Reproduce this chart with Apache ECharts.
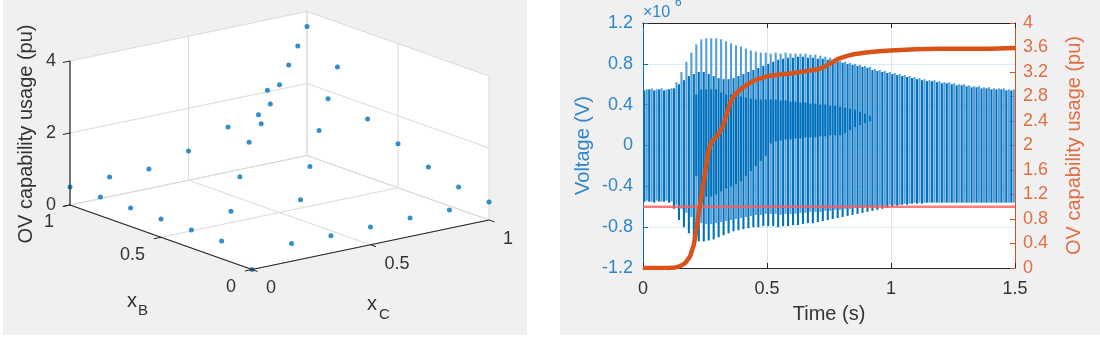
<!DOCTYPE html>
<html><head><meta charset="utf-8">
<script src="https://cdn.jsdelivr.net/npm/echarts@6/dist/echarts.min.js"></script>
<style>html,body{margin:0;padding:0;background:#fff}#c{width:1100px;height:340px}</style>
</head><body><div id="c"></div>
<script>
// ---------- Left panel: 3-D scatter (xB, xC, OV capability usage) ----------
const ptXB = [0,0,0,0,0,0,0, 0.167,0.333,0.5,0.667,0.833,1, 1,1,1,1,1,1, 0.167,0.333,0.5,0.667,0.833,
              0.167,0.333,0.5,0.667,0.833, 0.167,0.333,0.5,0.667, 0.333,0.5,0.667,0.833];
const ptXC = [0,0.167,0.333,0.5,0.667,0.833,1, 0,0,0,0,0,0, 0.167,0.333,0.5,0.667,0.833,1, 1,1,1,1,1,
              0.167,0.333,0.5,0.667,0.833, 0.333,0.5,0.667,0.833, 0.167,0.333,0.5,0.667];
const ptZ  = [0,0.49,0.48,0.49,0.51,0.51,0.5, 0.49,0.5,0.51,0.51,0.52,0.5, 0.55,0.54,0.81,1.25,2.04,3.58, 0.62,0.875,1.22,1.61,2.76,
              3.52,3.54,3.55,3.57,3.57, 1.18,1.58,2.05,2.40, 0.79,1.22,1.65,1.89];
const zTicks = [0, 2, 4];
const xbTicks = [0, 0.5, 1];
const xcTicks = [0, 0.5, 1];

// ---------- Right panel: voltage strokes (one per cycle) and OV usage ----------
const cycleStep = 0.02;
const darkHi = [0.54,0.55,0.54,0.55,0.54, 0.55,0.56,0.6,0.64,0.68, 0.7,0.72,0.72,0.7,0.68, 0.66,0.65,0.65,0.66,0.68,
  0.7,0.72,0.74,0.76,0.78, 0.8,0.82,0.84,0.85,0.86, 0.86,0.87,0.87,0.86,0.86, 0.85,0.85,0.84,0.83,0.82,
  0.81,0.8,0.79,0.78,0.77, 0.76,0.74,0.73,0.72,0.71, 0.7,0.69,0.68,0.67,0.66, 0.65,0.64,0.63,0.63,0.62,
  0.61,0.61,0.6,0.59,0.59, 0.58,0.57,0.57,0.56,0.56, 0.55,0.55,0.55,0.54,0.54];
const darkLo = [-0.55,-0.55,-0.56,-0.55,-0.55, -0.56,-0.62,-0.73,-0.8,-0.86, -0.92,-0.94,-0.94,-0.93,-0.92, -0.9,-0.88,-0.86,-0.84,-0.83,
  -0.82,-0.81,-0.8,-0.8,-0.79, -0.79,-0.79,-0.8,-0.79,-0.79, -0.78,-0.78,-0.77,-0.76,-0.76, -0.75,-0.74,-0.73,-0.72,-0.71,
  -0.7,-0.69,-0.68,-0.67,-0.66, -0.65,-0.64,-0.63,-0.62,-0.61, -0.6,-0.59,-0.58,-0.58,-0.57, -0.57,-0.57,-0.56,-0.56,-0.56,
  -0.56,-0.56,-0.56,-0.56,-0.56, -0.56,-0.56,-0.56,-0.56,-0.56, -0.56,-0.56,-0.56,-0.56,-0.56];
const lightHi = [0.55,0.56,0.55,0.56,0.55, 0.56,0.62,0.72,0.82,0.91, 0.99,1.04,1.05,1.05,1.05, 1.04,1.02,1.0,0.98,0.97,
  0.95,0.93,0.92,0.91,0.91, 0.9,0.91,0.9,0.91,0.9, 0.9,0.9,0.9,0.89,0.89, 0.88,0.87,0.86,0.85,0.83,
  0.82,0.81,0.8,0.79,0.78, 0.77,0.75,0.74,0.73,0.72, 0.71,0.7,0.69,0.68,0.67, 0.66,0.65,0.64,0.64,0.63,
  0.62,0.62,0.61,0.6,0.6, 0.59,0.58,0.58,0.57,0.57, 0.56,0.56,0.56,0.55,0.55];
const lightLo = [-0.54,-0.55,-0.54,-0.55,-0.54, -0.55,-0.58,-0.62,-0.66,-0.7, -0.74,-0.76,-0.77,-0.77,-0.76, -0.75,-0.74,-0.73,-0.72,-0.71,
  -0.7,-0.69,-0.68,-0.68,-0.67, -0.67,-0.67,-0.68,-0.67,-0.67, -0.67,-0.66,-0.66,-0.65,-0.65, -0.65,-0.64,-0.64,-0.63,-0.63,
  -0.62,-0.62,-0.61,-0.61,-0.6, -0.6,-0.6,-0.59,-0.59,-0.58, -0.58,-0.58,-0.57,-0.57,-0.56, -0.56,-0.56,-0.56,-0.56,-0.56,
  -0.56,-0.56,-0.56,-0.56,-0.56, -0.56,-0.56,-0.56,-0.56,-0.56, -0.56,-0.56,-0.56,-0.56,-0.56];
// darker inner band (cycles 10..45)
const bandFirstCycle = 10;
const bandHi = [0.5,0.55,0.55,0.55,0.55, 0.52,0.5,0.5,0.48,0.48, 0.47,0.46,0.45,0.45,0.45,
  0.45,0.45,0.44,0.44,0.43, 0.43,0.42,0.42,0.41,0.41, 0.4,0.4,0.39,0.39,0.38, 0.37,0.36,0.35,0.33,0.31, 0.29];
const bandLo = [-0.3,-0.45,-0.5,-0.5,-0.48, -0.45,-0.42,-0.4,-0.38,-0.35, -0.3,-0.25,-0.2,-0.15,-0.1,
  0.02,0.04,0.05,0.06,0.06, 0.07,0.07,0.08,0.08,0.08, 0.09,0.09,0.1,0.1,0.1, 0.12,0.15,0.18,0.2,0.22, 0.24];
const usageT  = [0,0.05,0.1,0.13,0.15,0.17,0.19,0.205,0.215,0.225,0.235,0.245,0.255,0.265,0.275,0.29,0.305,0.32,0.335,0.35,
  0.365,0.38,0.4,0.43,0.46,0.5,0.55,0.6,0.65,0.7,0.73,0.76,0.79,0.82,0.85,0.9,0.95,1.0,1.1,1.2,1.3,1.4,1.5];
const usagePU = [0,0,0,0.01,0.03,0.08,0.19,0.38,0.62,0.9,1.15,1.42,1.68,1.93,2.05,2.12,2.19,2.3,2.48,2.68,
  2.8,2.87,2.94,3.02,3.08,3.13,3.16,3.18,3.21,3.24,3.28,3.35,3.42,3.46,3.49,3.52,3.54,3.55,3.57,3.58,3.58,3.58,3.59];
const limitT  = [0, 1.5];
const limitPU = [1, 1];

// ---------- styling ----------
const FONT = '"Liberation Sans", Arial, sans-serif';
const TXT = '#333333';
const BLUE = '#0072BD', BLUE_TXT = '#2f86c9';
const ORANGE = '#D95319', ORANGE_TXT = '#de6f45';
const VIEW = { bx: -182, by: 64.5, cx: 237, cy: 49.5, zz: 36 };
const Z_MAX = zTicks[zTicks.length - 1];
function proj(b, c, z) { return [VIEW.bx * b + VIEW.cx * c, VIEW.by * b + VIEW.cy * c + VIEW.zz * z]; }

function helpers(api) {
  const P = (b, c, z) => api.coord(proj(b, c, z));
  const seg = (a, b, color, w) => { const p = P(a[0], a[1], a[2]), q = P(b[0], b[1], b[2]);
    return { type: 'line', shape: { x1: p[0], y1: p[1], x2: q[0], y2: q[1] }, style: { stroke: color, lineWidth: w } }; };
  const txt = (p, dx, dy, s, align, size, extra) => Object.assign({ type: 'text', x: p[0] + dx, y: p[1] + dy,
    style: { text: s, fill: TXT, font: (size || 18) + 'px ' + FONT, align: align, textAlign: align,
             verticalAlign: 'middle', textVerticalAlign: 'middle' } }, extra || {});
  return { P, seg, txt };
}

function renderBox(params, api) {
  const { P, seg } = helpers(api);
  const ch = [];
  const hex = [[0,0,0],[1,0,0],[1,0,Z_MAX],[1,1,Z_MAX],[0,1,Z_MAX],[0,1,0]].map(p => P(p[0], p[1], p[2]));
  ch.push({ type: 'polygon', shape: { points: hex }, style: { fill: '#ffffff', lineWidth: 0 } });
  const g = '#dadada';
  xbTicks.forEach(b => { ch.push(seg([b,0,0],[b,1,0],g,1)); ch.push(seg([b,1,0],[b,1,Z_MAX],g,1)); });
  xcTicks.forEach(c => { ch.push(seg([0,c,0],[1,c,0],g,1)); ch.push(seg([1,c,0],[1,c,Z_MAX],g,1)); });
  zTicks.forEach(z => { ch.push(seg([1,0,z],[1,1,z],g,1)); ch.push(seg([0,1,z],[1,1,z],g,1)); });
  return { type: 'group', children: ch };
}

function renderAxes3d(params, api) {
  const { P, seg, txt } = helpers(api);
  const k = '#262626', ch = [], TL = 0.03;
  ch.push(seg([1,0,0],[1,0,Z_MAX],k,1.2));
  ch.push(seg([0,0,0],[1,0,0],k,1.2));
  ch.push(seg([0,0,0],[0,1,0],k,1.2));
  zTicks.forEach(z => { ch.push(seg([1,0,z],[1,-TL,z],k,1)); ch.push(txt(P(1,0,z), -14, 0, String(z), 'right')); });
  xbTicks.forEach(b => { ch.push(seg([b,0,0],[b,-TL,0],k,1)); ch.push(txt(P(b,0,0), -16, 17.5, String(b), 'right')); });
  xcTicks.forEach(c => { ch.push(seg([0,c,0],[-TL,c,0],k,1)); ch.push(txt(P(0,c,0), 14, 19, String(c), 'left')); });
  const aB = P(0.5, 0, 0), aC = P(0, 0.5, 0), aZ = P(1, 0, Z_MAX / 2);
  ch.push(txt(aB, -29, 64, 'x', 'center', 20));
  ch.push(txt(aB, -18, 74, 'B', 'center', 15));
  ch.push(txt(aC, 1.5, 60, 'x', 'center', 20));
  ch.push(txt(aC, 14, 70, 'C', 'center', 15));
  ch.push(txt(aZ, -44, 1, 'OV capability usage (pu)', 'center', 20, { rotation: Math.PI / 2 }));
  return { type: 'group', children: ch };
}

function strokeRenderer(color, width) {
  return function (params, api) {
    const p1 = api.coord([api.value(0), api.value(1)]);
    const p2 = api.coord([api.value(0), api.value(2)]);
    return { type: 'line', shape: { x1: p1[0], y1: p1[1], x2: p2[0], y2: p2[1] }, style: { stroke: color, lineWidth: width } };
  };
}

const scatterData = ptXB.map((b, i) => proj(b, ptXC[i], ptZ[i]));
const darkData = darkHi.map((h, i) => [0.005 + i * cycleStep, h, darkLo[i]]);
const lightData = lightHi.map((h, i) => [0.015 + i * cycleStep, h, lightLo[i]]);
const bandData = bandHi.map((h, i) => [0.015 + (bandFirstCycle + i) * cycleStep, h, bandLo[i]]);
const usageData = usageT.map((t, i) => [t, usagePU[i]]);
const limitData = limitT.map((t, i) => [t, limitPU[i]]);

const chart = echarts.init(document.getElementById('c'), null, { renderer: 'canvas' });
chart.setOption({
  animation: false,
  backgroundColor: '#ffffff',
  textStyle: { fontFamily: FONT },
  graphic: [
    { type: 'rect', z: -10, silent: true, shape: { x: 3, y: 0, width: 524, height: 335 }, style: { fill: '#f0f0f0' } },
    { type: 'rect', z: -10, silent: true, shape: { x: 560, y: 0, width: 540, height: 335 }, style: { fill: '#f0f0f0' } },
    { type: 'rect', z: -9, silent: true, shape: { x: 643, y: 23, width: 372, height: 245 }, style: { fill: '#ffffff' } },
    { type: 'text', z: 5, silent: true, left: 643, top: 5, style: { text: '×10', fill: BLUE_TXT, font: '16px ' + FONT } },
    { type: 'text', z: 5, silent: true, left: 675, top: -3, style: { text: '6', fill: BLUE_TXT, font: '12px ' + FONT } }
  ],
  grid: [
    { left: 2, top: 0, width: 525, height: 339.5, containLabel: false, outerBoundsMode: 'none' },
    { left: 643, top: 23, width: 372, height: 245, containLabel: false, outerBoundsMode: 'none' }
  ],
  xAxis: [
    { gridIndex: 0, type: 'value', min: -250, max: 275, show: false },
    { gridIndex: 1, type: 'value', min: 0, max: 1.5, interval: 0.5, position: 'bottom',
      axisLine: { show: true, onZero: false, lineStyle: { color: '#262626', width: 1 } },
      axisTick: { show: true, inside: true, length: 5, lineStyle: { color: '#262626' } },
      axisLabel: { color: TXT, fontSize: 18, margin: 12, fontFamily: FONT },
      splitLine: { show: true, lineStyle: { color: '#e2e2e2', width: 1 } },
      name: 'Time (s)', nameLocation: 'middle', nameGap: 36,
      nameTextStyle: { color: TXT, fontSize: 20, fontFamily: FONT } },
    { gridIndex: 1, type: 'value', min: 0, max: 1.5, interval: 0.5, position: 'top',
      axisLine: { show: true, onZero: false, lineStyle: { color: '#262626', width: 1 } },
      axisTick: { show: true, inside: true, length: 5, lineStyle: { color: '#262626' } },
      axisLabel: { show: false }, splitLine: { show: false } }
  ],
  yAxis: [
    { gridIndex: 0, type: 'value', min: -70, max: 269.5, show: false },
    { gridIndex: 1, type: 'value', min: -1.2, max: 1.2, interval: 0.4, position: 'left',
      axisLine: { show: true, onZero: false, lineStyle: { color: BLUE, width: 1 } },
      axisTick: { show: true, inside: true, length: 5, lineStyle: { color: BLUE } },
      axisLabel: { color: BLUE_TXT, fontSize: 18, margin: 10, fontFamily: FONT },
      splitLine: { show: true, lineStyle: { color: 'rgba(0,114,189,0.14)', width: 1 } },
      name: 'Voltage (V)', nameLocation: 'middle', nameGap: 50,
      nameTextStyle: { color: BLUE_TXT, fontSize: 20, fontFamily: FONT } },
    { gridIndex: 1, type: 'value', min: 0, max: 4, interval: 0.4, position: 'right',
      axisLine: { show: true, onZero: false, lineStyle: { color: ORANGE, width: 1 } },
      axisTick: { show: true, inside: true, length: 5, lineStyle: { color: ORANGE } },
      axisLabel: { color: ORANGE_TXT, fontSize: 18, margin: 8, fontFamily: FONT },
      splitLine: { show: false },
      name: 'OV capability usage (pu)', nameLocation: 'middle', nameGap: 49,
      nameTextStyle: { color: ORANGE_TXT, fontSize: 20, fontFamily: FONT } }
  ],
  series: [
    { type: 'custom', name: 'box', xAxisIndex: 0, yAxisIndex: 0, data: [[0, 0]], encode: { x: 0, y: 1 },
      renderItem: renderBox, silent: true, z: 1 },
    { type: 'scatter', name: 'points', xAxisIndex: 0, yAxisIndex: 0, data: scatterData, symbol: 'circle',
      symbolSize: 5, itemStyle: { color: BLUE }, silent: true, z: 3 },
    { type: 'custom', name: 'axes3d', xAxisIndex: 0, yAxisIndex: 0, data: [[0, 0]], encode: { x: 0, y: 1 },
      renderItem: renderAxes3d, silent: true, z: 4 },
    { type: 'custom', name: 'voltage light', xAxisIndex: 1, yAxisIndex: 1, data: lightData, encode: { x: 0, y: [1, 2] },
      renderItem: strokeRenderer('#559fdb', 2.1), clip: true, silent: true, z: 2 },
    { type: 'custom', name: 'voltage dark', xAxisIndex: 1, yAxisIndex: 1, data: darkData, encode: { x: 0, y: [1, 2] },
      renderItem: strokeRenderer(BLUE, 2.1), clip: true, silent: true, z: 2 },
    { type: 'custom', name: 'voltage band', xAxisIndex: 1, yAxisIndex: 1, data: bandData, encode: { x: 0, y: [1, 2] },
      renderItem: strokeRenderer(BLUE, 2.1), clip: true, silent: true, z: 2 },
    { type: 'line', name: 'limit', xAxisIndex: 1, yAxisIndex: 2, data: limitData, symbol: 'none',
      lineStyle: { color: 'rgba(255,90,90,0.8)', width: 2.5 }, silent: true, z: 3 },
    { type: 'line', name: 'usage', xAxisIndex: 1, yAxisIndex: 2, data: usageData, symbol: 'none', smooth: false,
      lineStyle: { color: ORANGE, width: 4.5 }, silent: true, z: 4 }
  ]
});
</script></body></html>
